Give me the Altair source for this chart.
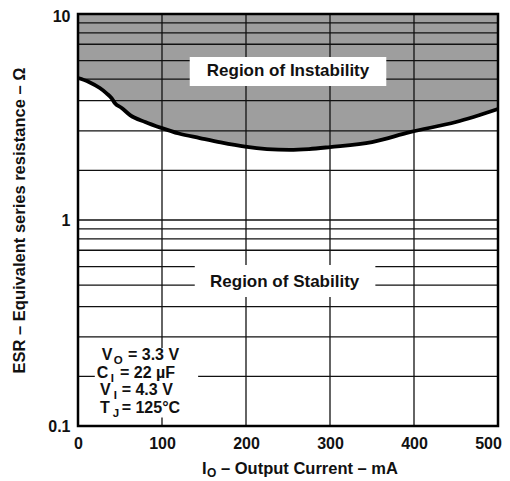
import altair as alt
import pandas as pd

# ---- data ----
io_ma = [0, 13, 26, 34, 40, 44, 52, 62, 80, 99, 120, 145, 170, 199, 225, 252, 275, 300, 350, 395, 450, 500]
esr_ohm = [4.89, 4.68, 4.37, 4.12, 3.90, 3.69, 3.50, 3.23, 2.99, 2.80, 2.63, 2.50, 2.38, 2.27, 2.21, 2.19,
           2.21, 2.26, 2.39, 2.67, 2.99, 3.46]
x_grid = [100, 200, 300, 400]
y_grid = [0.174, 0.271, 0.38, 0.483, 0.594, 0.713, 0.81, 0.906, 1,
          1.74, 2.71, 3.8, 4.83, 5.94, 7.13, 8.1, 9.06]
y_ticks = [0.1, 1, 10]
x_ticks = [0, 100, 200, 300, 400, 500]
region_labels = ["Region of Instability", "Region of Stability"]
cond_main = ["V", "C", "V", "T"]
cond_sub = ["O", "I", "I", "J"]
cond_rest = ["= 3.3 V", "= 22 µF", "= 4.3 V", "= 125°C"]
x_title_main = "I"
x_title_sub = "O"
x_title_rest = "– Output Current – mA"
y_title = "ESR – Equivalent series resistance – Ω"

# ---- layout (label placement) ----
region_x = [250, 246]
region_y = [5.26, 0.5]
box_x = [133, 139, 20]
box_x2 = [367, 354, 143]
box_y = [4.47, 0.423, 0.110]
box_y2 = [6.18, 0.605, 0.239]
cond_y = [0.209, 0.171, 0.1414, 0.1156]
cond_main_x = [28.2, 22.3, 26.2, 26.2]
cond_sub_x = [42.5, 38.9, 42.5, 41.5]
cond_rest_x = [59.5, 50, 52, 52]

W, H = 420, 412
FONT = "Liberation Sans"
INK = "#111111"

xs = alt.Scale(domain=[0, 500], nice=False, zero=False)
ys = alt.Scale(type="log", domain=[0.1, 10], nice=False)
x_axis = alt.Axis(values=x_ticks, title=None, grid=False, ticks=False, domain=False,
                  labelFont=FONT, labelFontWeight="bold", labelFontSize=16,
                  labelColor=INK, labelPadding=9, labelFlush=False, labelOverlap=False,
                  labelOffset={"condition": {"test": "datum.value == 500", "value": -10}, "value": 0})
y_axis = alt.Axis(values=y_ticks, format="~g", title=y_title, grid=False, ticks=False,
                  domain=False, labelFont=FONT, labelFontWeight="bold", labelFontSize=16,
                  labelColor=INK, labelPadding=8, labelFlush=False, labelOverlap=False,
                  labelOffset={"condition": {"test": "datum.value == 10", "value": 2}, "value": 0},
                  titleFont=FONT, titleFontWeight="bold", titleFontSize=16.5,
                  titleColor=INK, titleX=-59, titleY=H / 2, titleAngle=-90,
                  titleAlign="center", titleBaseline="middle")


def X(field):
    return alt.X(field, type="quantitative", scale=xs, axis=x_axis)


def Y(field):
    return alt.Y(field, type="quantitative", scale=ys, axis=y_axis)


curve = pd.DataFrame({"io": io_ma, "esr": esr_ohm})

area = alt.Chart(curve).mark_area(color="#9e9e9e", interpolate="monotone").encode(
    x=X("io"), y=Y("esr"), y2=alt.datum(10))

hgrid = alt.Chart(pd.DataFrame({"esr": y_grid})).mark_rule(color=INK, strokeWidth=1.3).encode(
    y=Y("esr"))
vgrid = alt.Chart(pd.DataFrame({"io": x_grid})).mark_rule(color=INK, strokeWidth=1.3).encode(
    x=X("io"))

line = alt.Chart(curve).mark_line(color="black", strokeWidth=3.8, interpolate="monotone").encode(
    x=X("io"), y=Y("esr"))

boxes = alt.Chart(pd.DataFrame({"io": box_x, "io2": box_x2, "esr": box_y, "esr2": box_y2})).mark_rect(
    color="white").encode(x=X("io"), x2="io2:Q", y=Y("esr"), y2="esr2:Q")

regions = alt.Chart(pd.DataFrame({"t": region_labels, "io": region_x, "esr": region_y})).mark_text(
    font=FONT, fontWeight="bold", fontSize=17, color=INK, align="center", baseline="middle").encode(
    x=X("io"), y=Y("esr"), text="t:N")

cond = pd.DataFrame({"m": cond_main, "s": cond_sub, "r": cond_rest, "esr": cond_y,
                     "mx": cond_main_x, "sx": cond_sub_x, "rx": cond_rest_x})
cond_base = alt.Chart(cond)
c_main = cond_base.mark_text(font=FONT, fontWeight="bold", fontSize=16, color=INK, align="left",
                             baseline="alphabetic").encode(x=X("mx"), y=Y("esr"), text="m:N")
c_sub = cond_base.mark_text(font=FONT, fontWeight="bold", fontSize=11.5, color=INK, align="left",
                            baseline="alphabetic", dy=3.5).encode(x=X("sx"), y=Y("esr"), text="s:N")
c_rest = cond_base.mark_text(font=FONT, fontWeight="bold", fontSize=16, color=INK, align="left",
                             baseline="alphabetic").encode(x=X("rx"), y=Y("esr"), text="r:N")

t_main = alt.Chart(pd.DataFrame({"t": [x_title_main]})).mark_text(
    font=FONT, fontWeight="bold", fontSize=16.5, color=INK, align="left", baseline="alphabetic").encode(
    x=alt.value(124), y=alt.value(H + 48), text="t:N")
t_sub = alt.Chart(pd.DataFrame({"t": [x_title_sub]})).mark_text(
    font=FONT, fontWeight="bold", fontSize=12, color=INK, align="left", baseline="alphabetic").encode(
    x=alt.value(129), y=alt.value(H + 51), text="t:N")
t_rest = alt.Chart(pd.DataFrame({"t": [x_title_rest]})).mark_text(
    font=FONT, fontWeight="bold", fontSize=16.5, color=INK, align="left", baseline="alphabetic").encode(
    x=alt.value(143), y=alt.value(H + 48), text="t:N")

frame = alt.Chart(pd.DataFrame({"a": [0]})).mark_rect(
    fill=None, stroke="black", strokeWidth=2.5).encode(
    x=alt.value(0), x2=alt.value(W), y=alt.value(0), y2=alt.value(H))

chart = alt.layer(area, hgrid, vgrid, line, boxes, regions, c_main, c_sub, c_rest,
                  t_main, t_sub, t_rest, frame).properties(
    width=W, height=H, autosize="none",
    padding={"left": 70, "top": 6, "right": 4, "bottom": 55},
    background="white",
).configure_view(stroke=None)

chart.save("out.html", embed_options={"renderer": "svg", "actions": False})
